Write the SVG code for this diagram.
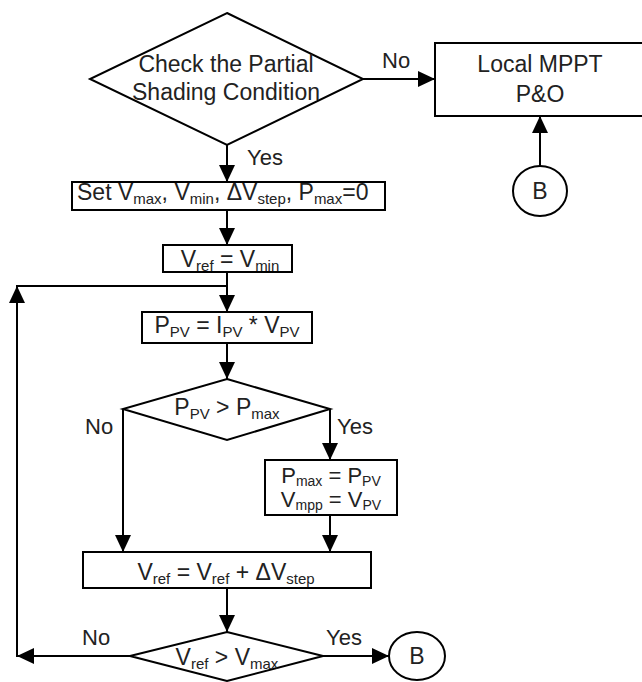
<svg xmlns="http://www.w3.org/2000/svg" width="642" height="682" viewBox="0 0 642 682">
<style>
.s{fill:#fff;stroke:#000;stroke-width:2}
.c{fill:none;stroke:#000;stroke-width:2}
text{font-family:"Liberation Sans",Arial,sans-serif;font-size:23px;fill:#222}
.m{text-anchor:middle}
.l{font-size:22px}
.b{font-size:15px}
.u{font-size:22px}
.v{font-size:14px}
</style>
<defs>
<marker id="ah" markerUnits="userSpaceOnUse" markerWidth="18" markerHeight="17" refX="17" refY="8" orient="auto" viewBox="0 0 18 17">
<path d="M0,0 L17,8 L0,16 z" fill="#000"/>
</marker>
</defs>
<g id="connectors">
<line class="c" x1="363" y1="79" x2="435" y2="79" marker-end="url(#ah)"/>
<line class="c" x1="540" y1="166" x2="540" y2="116" marker-end="url(#ah)"/>
<line class="c" x1="227" y1="145" x2="227" y2="182" marker-end="url(#ah)"/>
<line class="c" x1="227" y1="210" x2="227" y2="245" marker-end="url(#ah)"/>
<line class="c" x1="227" y1="272" x2="227" y2="312" marker-end="url(#ah)"/>
<line class="c" x1="227" y1="343" x2="227" y2="379" marker-end="url(#ah)"/>
<line class="c" x1="330" y1="409" x2="330" y2="460" marker-end="url(#ah)"/>
<line class="c" x1="330" y1="515" x2="330" y2="552" marker-end="url(#ah)"/>
<line class="c" x1="123" y1="409" x2="123" y2="552" marker-end="url(#ah)"/>
<line class="c" x1="227" y1="588" x2="227" y2="632" marker-end="url(#ah)"/>
<line class="c" x1="323" y1="656" x2="389" y2="656" marker-end="url(#ah)"/>
<line class="c" x1="130" y1="656" x2="17" y2="656" marker-end="url(#ah)"/>
<line class="c" x1="17" y1="657" x2="17" y2="286" marker-end="url(#ah)"/>
<polyline class="c" points="16,286 227,286 227,300"/>
<text class="l" x="382" y="68">No</text>
<text class="l" x="247" y="165">Yes</text>
<text class="l" x="85" y="434">No</text>
<text class="l" x="337" y="434">Yes</text>
<text class="l" x="82" y="645">No</text>
<text class="l" x="326" y="645">Yes</text>
</g>
<g id="check">
<polygon class="s" points="227,13 363,79 227,145 90,79"/>
<text class="m" x="226" y="72">Check the Partial</text>
<text class="m" x="226" y="100">Shading Condition</text>
</g>
<g id="local">
<rect class="s" x="435" y="43" width="210" height="73"/>
<text class="m" x="540" y="72">Local MPPT</text>
<text class="m" x="540" y="102">P&amp;O</text>
</g>
<g id="b-top">
<ellipse class="s" cx="540" cy="191" rx="27" ry="25"/>
<text class="m" x="540" y="199">B</text>
</g>
<g id="set">
<rect class="s" x="72" y="182" width="313" height="28"/>
<text x="77" y="200">Set V<tspan class="b" dy="4">max</tspan><tspan dy="-4">, V</tspan><tspan class="b" dy="4">min</tspan><tspan dy="-4">, ΔV</tspan><tspan class="b" dy="4">step</tspan><tspan dy="-4">, P</tspan><tspan class="b" dy="4">max</tspan><tspan dy="-4">=0</tspan></text>
</g>
<g id="vref-init">
<rect class="s" x="163" y="245" width="129" height="27"/>
<text class="m" x="230" y="267">V<tspan class="b" dy="4">ref</tspan><tspan dy="-4"> = V</tspan><tspan class="b" dy="4">min</tspan></text>
</g>
<g id="ppv">
<rect class="s" x="142" y="312" width="170" height="31"/>
<text class="m" x="227" y="333">P<tspan class="b" dy="4">PV</tspan><tspan dy="-4"> = I</tspan><tspan class="b" dy="4">PV</tspan><tspan dy="-4"> * V</tspan><tspan class="b" dy="4">PV</tspan></text>
</g>
<g id="cmp-p">
<polygon class="s" points="227,379 330,409 227,440 123,409"/>
<text class="m" x="227" y="415">P<tspan class="b" dy="4">PV</tspan><tspan dy="-4"> &gt; P</tspan><tspan class="b" dy="4">max</tspan></text>
</g>
<g id="update">
<rect class="s" x="265" y="460" width="132" height="55"/>
<text class="m u" x="331" y="483">P<tspan class="v" dy="3">max</tspan><tspan dy="-3"> = P</tspan><tspan class="v" dy="3">PV</tspan></text>
<text class="m u" x="331" y="507">V<tspan class="v" dy="3">mpp</tspan><tspan dy="-3"> = V</tspan><tspan class="v" dy="3">PV</tspan></text>
</g>
<g id="step">
<rect class="s" x="83" y="552" width="288" height="36"/>
<text class="m" x="226" y="580">V<tspan class="b" dy="4">ref</tspan><tspan dy="-4"> = V</tspan><tspan class="b" dy="4">ref</tspan><tspan dy="-4"> + ΔV</tspan><tspan class="b" dy="4">step</tspan></text>
</g>
<g id="cmp-v">
<polygon class="s" points="227,632 323,656 227,681 130,656"/>
<text class="m" x="227" y="665">V<tspan class="b" dy="4">ref</tspan><tspan dy="-4"> &gt; V</tspan><tspan class="b" dy="4">max</tspan></text>
</g>
<g id="b-bottom">
<ellipse class="s" cx="417" cy="656" rx="28" ry="24"/>
<text class="m" x="417" y="664">B</text>
</g>
</svg>
